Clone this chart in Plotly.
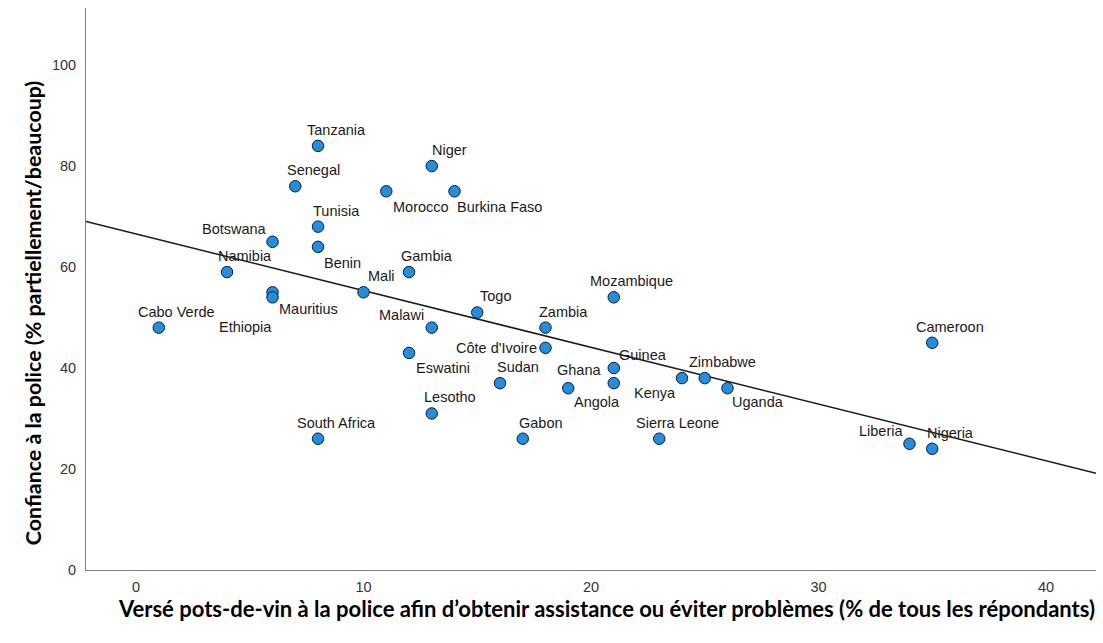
import numpy as np
import plotly.graph_objects as go

# Country-level survey results
countries = [
    "Tanzania", "Niger", "Senegal", "Morocco", "Burkina Faso", "Tunisia",
    "Botswana", "Benin", "Namibia", "Gambia", "Mauritius", "Ethiopia",
    "Mali", "Cabo Verde", "Togo", "Malawi", "Zambia", "Mozambique",
    "Côte d'Ivoire", "Eswatini", "Cameroon", "Guinea", "Sudan", "Ghana",
    "Angola", "Kenya", "Zimbabwe", "Uganda", "Lesotho", "South Africa",
    "Gabon", "Sierra Leone", "Liberia", "Nigeria",
]
bribes_paid = [
    8, 13, 7, 11, 14, 8,
    6, 8, 4, 12, 6, 6,
    10, 1, 15, 13, 18, 21,
    18, 12, 35, 21, 16, 19,
    21, 24, 25, 26, 13, 8,
    17, 23, 34, 35,
]
trust_police = [
    84, 80, 76, 75, 75, 68,
    65, 64, 59, 59, 55, 54,
    55, 48, 51, 48, 48, 54,
    44, 43, 45, 40, 37, 36,
    37, 38, 38, 36, 31, 26,
    26, 26, 25, 24,
]
x_ticks = [0, 10, 20, 30, 40]
y_ticks = [0, 20, 40, 60, 80, 100]

x_title = "Versé pots-de-vin à la police afin d’obtenir assistance ou éviter problèmes (% de tous les répondants)"
y_title = "Confiance à la police (% partiellement/beaucoup)"

X_RANGE = [-2.2, 42.2]
Y_RANGE = [0, 111.3]

# Label placement (pixel shifts from each marker); default is above-right
DEFAULT_SHIFT = (18, 16)
label_shift = {
    "Morocco": (35, -16),
    "Burkina Faso": (45, -16),
    "Botswana": (-38, 13),
    "Benin": (24, -16),
    "Mauritius": (36, -17),
    "Ethiopia": (-27, -30),
    "Malawi": (-30, 13),
    "Côte d'Ivoire": (-49, 0),
    "Eswatini": (34, -15),
    "Ghana": (11, 18),
    "Guinea": (29, 13),
    "Angola": (-17, -19),
    "Kenya": (-27, -15),
    "Uganda": (31, -14),
    "Liberia": (-28, 13),
}

# Least-squares fit line across the full x range
slope, intercept = np.polyfit(bribes_paid, trust_police, 1)
fit_x = np.array(X_RANGE)
fit_y = intercept + slope * fit_x

fig = go.Figure()

fig.add_trace(go.Scatter(
    x=fit_x, y=fit_y, mode="lines",
    line=dict(color="#1a1a1a", width=1.5),
    hoverinfo="skip", showlegend=False,
))

fig.add_trace(go.Scatter(
    x=bribes_paid, y=trust_police, mode="markers",
    marker=dict(size=11.5, color="#1e8fe6",
                line=dict(color="#1a1a1a", width=1)),
    text=countries, hovertemplate="%{text}: %{x}, %{y}<extra></extra>",
    showlegend=False,
))

annotations = []
for name, xv, yv in zip(countries, bribes_paid, trust_police):
    dx, dy = label_shift.get(name, DEFAULT_SHIFT)
    annotations.append(dict(
        x=xv, y=yv, xref="x", yref="y", text=name, showarrow=False,
        xanchor="center", yanchor="middle", xshift=dx, yshift=dy,
        font=dict(family="Liberation Sans, Arial, sans-serif", size=14.5,
                  color="#1a1a1a"),
    ))

title_family = "Lato, 'Open Sans', sans-serif"
annotations.append(dict(
    x=0.515, y=-0.068, xref="paper", yref="paper", text=f"<b>{x_title}</b>",
    showarrow=False, xanchor="center", yanchor="middle",
    font=dict(family=title_family, size=22, color="#000000"),
))
annotations.append(dict(
    x=-0.0525, y=0.457, xref="paper", yref="paper", text=f"<b>{y_title}</b>",
    showarrow=False, xanchor="center", yanchor="middle", textangle=-90,
    font=dict(family=title_family, size=21.4, color="#000000"),
))

axis_common = dict(
    showgrid=False, zeroline=False, showline=True,
    linecolor="#808080", linewidth=1, ticks="",
    tickfont=dict(family="Liberation Sans, Arial, sans-serif", size=14.5,
                  color="#333333"),
)

fig.update_layout(
    width=1103, height=643,
    margin=dict(l=86, r=7, t=8, b=73),
    paper_bgcolor="white", plot_bgcolor="white",
    xaxis=dict(range=X_RANGE, tickvals=x_ticks, ticklabelstandoff=4,
               **axis_common),
    yaxis=dict(range=Y_RANGE, tickvals=y_ticks, ticklabelstandoff=6,
               **axis_common),
    annotations=annotations,
    showlegend=False,
)

fig.write_html("out.html")
